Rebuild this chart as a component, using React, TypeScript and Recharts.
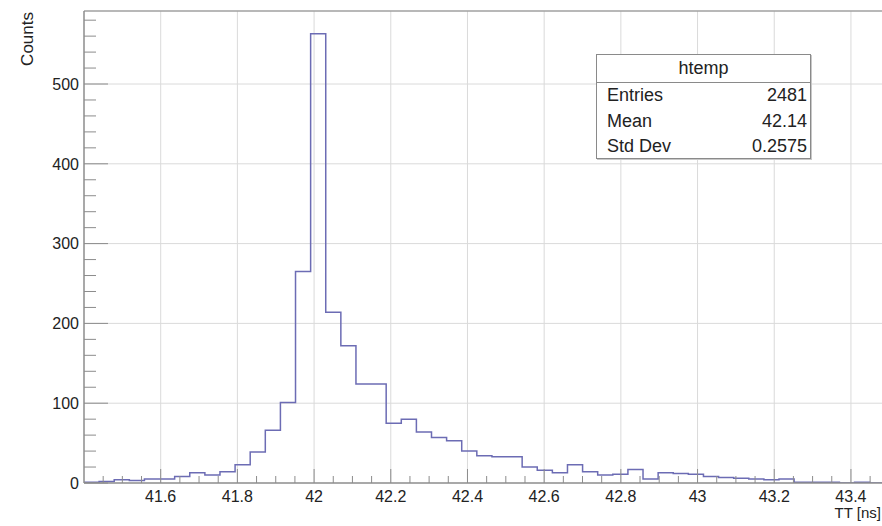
import React from "react"
import { Line, LineChart, ReferenceLine, XAxis, YAxis } from "recharts"

// histogram binning
const binStart = 41.4
const binWidth = 0.0394
const xMax = 43.481
const yMax = 591.5

const counts = [
  1, 2, 4, 3, 5, 5, 8, 13, 10, 14,
  23, 39, 66, 101, 265, 563, 214, 172, 124, 124,
  75, 80, 64, 57, 53, 40, 34, 33, 33, 20,
  16, 13, 23, 14, 10, 11, 17, 5, 13, 12,
  11, 8, 7, 6, 5, 4, 5, 1, 1, 1,
  0, 1, 0,
]

const majorX = [41.6, 41.8, 42, 42.2, 42.4, 42.6, 42.8, 43, 43.2, 43.4]
const minorX = [
  41.45, 41.5, 41.55, 41.65, 41.7, 41.75, 41.85, 41.9, 41.95, 42.05, 42.1, 42.15,
  42.25, 42.3, 42.35, 42.45, 42.5, 42.55, 42.65, 42.7, 42.75, 42.85, 42.9, 42.95,
  43.05, 43.1, 43.15, 43.25, 43.3, 43.35, 43.45,
]
const majorY = [0, 100, 200, 300, 400, 500]
const minorY = [
  20, 40, 60, 80, 120, 140, 160, 180, 220, 240, 260, 280, 320, 340, 360, 380,
  420, 440, 460, 480, 520, 540, 560, 580,
]

const stats = [
  { label: "Entries", value: "2481" },
  { label: "Mean", value: "42.14" },
  { label: "Std Dev", value: "0.2575" },
]

const data = counts.map((c, i) => ({ x: binStart + i * binWidth, y: c }))
data.push({ x: binStart + counts.length * binWidth, y: counts[counts.length - 1] })

const font = "'Liberation Sans', Arial, Helvetica, sans-serif"
const axisColor = "#8c8c8c"
const gridColor = "#dadada"

function XTick(props: any) {
  const { x, y, payload } = props
  const major = majorX.includes(payload.value)
  return (
    <g>
      <line x1={x} x2={x} y1={y} y2={y - (major ? 14 : 7)} stroke={axisColor} strokeWidth={1} />
      {major && (
        <text x={x} y={y + 19} textAnchor="middle" fontSize={16} fontFamily={font} fill="#222">
          {payload.value}
        </text>
      )}
    </g>
  )
}

function YTick(props: any) {
  const { x, y, payload } = props
  const major = majorY.includes(payload.value)
  return (
    <g>
      <line x1={x} x2={x + (major ? 24 : 12)} y1={y} y2={y} stroke={axisColor} strokeWidth={1} />
      {major && (
        <text x={x - 5} y={y} dy="0.36em" textAnchor="end" fontSize={16} fontFamily={font} fill="#222">
          {payload.value}
        </text>
      )}
    </g>
  )
}

export default function App() {
  return (
    <div style={{ position: "absolute", left: 0, top: 0, width: 882, height: 526, background: "#fff" }}>
      <LineChart width={882} height={526} data={data} margin={{ top: 11, right: 0, bottom: 0, left: 0 }}>
        <XAxis
          dataKey="x"
          type="number"
          domain={[binStart, xMax]}
          allowDataOverflow
          ticks={[...minorX, ...majorX]}
          interval={0}
          height={43}
          tickSize={0}
          tickMargin={0}
          tickLine={false}
          axisLine={{ stroke: axisColor, strokeWidth: 1.5 }}
          tick={XTick}
        />
        <YAxis
          type="number"
          domain={[0, yMax]}
          allowDataOverflow
          ticks={[...minorY, ...majorY]}
          interval={0}
          width={84}
          tickSize={0}
          tickMargin={0}
          tickLine={false}
          axisLine={{ stroke: axisColor, strokeWidth: 1.5 }}
          tick={YTick}
        />
        {majorX.map((t) => (
          <ReferenceLine key={"gx" + t} x={t} stroke={gridColor} strokeWidth={1} />
        ))}
        {majorY.slice(1).map((t) => (
          <ReferenceLine key={"gy" + t} y={t} stroke={gridColor} strokeWidth={1} />
        ))}
        <ReferenceLine y={yMax} stroke="#a0a0a0" strokeWidth={1.5} />
        <Line
          dataKey="y"
          type="stepAfter"
          stroke="#6c6cb4"
          strokeWidth={1.5}
          dot={false}
          activeDot={false}
          isAnimationActive={false}
        />
      </LineChart>

      <svg width={882} height={526} style={{ position: "absolute", left: 0, top: 0, pointerEvents: "none" }}>
        <text transform="translate(33,12) rotate(-90)" textAnchor="end" fontSize={17} fontFamily={font} fill="#222">
          Counts
        </text>
        <text x={881} y={518} textAnchor="end" fontSize={15} fontFamily={font} fill="#222">
          TT [ns]
        </text>
      </svg>

      <div
        style={{
          position: "absolute",
          left: 596,
          top: 54,
          width: 215,
          height: 105,
          boxSizing: "border-box",
          border: "1px solid #8a8a8a",
          boxShadow: "1px 1px 0 #c8c8c8",
          background: "#fff",
          fontFamily: font,
          fontSize: 18,
          color: "#222",
        }}
      >
        <div style={{ height: 27, lineHeight: "27px", textAlign: "center", borderBottom: "1px solid #8a8a8a" }}>
          htemp
        </div>
        {stats.map((s) => (
          <div
            key={s.label}
            style={{ display: "flex", justifyContent: "space-between", height: 25.5, lineHeight: "25.5px", padding: "0 3px 0 10px" }}
          >
            <span>{s.label}</span>
            <span>{s.value}</span>
          </div>
        ))}
      </div>
    </div>
  )
}
